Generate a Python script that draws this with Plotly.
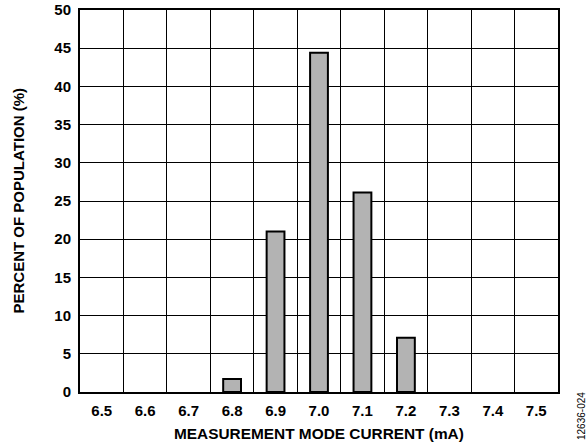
import plotly.graph_objects as go

categories = ["6.5", "6.6", "6.7", "6.8", "6.9", "7.0", "7.1", "7.2", "7.3", "7.4", "7.5"]
bar_x = ["6.8", "6.9", "7.0", "7.1", "7.2"]
bar_y = [1.7, 21.0, 44.4, 26.1, 7.1]
y_ticks = [0, 5, 10, 15, 20, 25, 30, 35, 40, 45, 50]

FONT = "Liberation Sans, Arial, sans-serif"
FS = 15

fig = go.Figure()
fig.add_trace(go.Bar(
    x=bar_x, y=bar_y,
    marker=dict(color="#b3b3b3", line=dict(color="black", width=2)),
    width=0.41,
    showlegend=False,
))

fig.update_layout(
    width=588, height=446,
    margin=dict(l=80, r=30, t=10, b=54),
    paper_bgcolor="white", plot_bgcolor="white",
    font=dict(family=FONT, size=FS, color="black"),
    xaxis=dict(
        type="category", categoryorder="array", categoryarray=categories,
        range=[-0.5, 10.5], tickson="boundaries", automargin=False,
        tickvals=categories, ticktext=["<b>%s</b>" % c for c in categories],
        showgrid=True, gridcolor="black", gridwidth=1,
        showline=True, linecolor="black", linewidth=2, mirror=True,
        ticks="", ticklabelstandoff=4, tickfont=dict(size=FS, family=FONT),
        zeroline=False, fixedrange=True,
    ),
    yaxis=dict(
        range=[0, 50], tickvals=y_ticks, ticktext=["<b>%d</b>" % v for v in y_ticks],
        automargin=False,
        showgrid=True, gridcolor="black", gridwidth=1,
        showline=True, linecolor="black", linewidth=2, mirror=True,
        ticks="", ticklabelstandoff=4, tickfont=dict(size=FS, family=FONT),
        zeroline=False, fixedrange=True,
    ),
    annotations=[
        dict(text="<b>MEASUREMENT MODE CURRENT (mA)</b>", xref="paper", yref="paper",
             x=0.5, y=0, yshift=-41, xanchor="center", yanchor="middle",
             showarrow=False, font=dict(size=15.4, family=FONT, color="black")),
        dict(text="<b>PERCENT OF POPULATION (%)</b>", xref="paper", yref="paper",
             x=0, xshift=-62.5, y=0.5, xanchor="center", yanchor="middle",
             textangle=-90, showarrow=False, font=dict(size=FS, family=FONT, color="black")),
        dict(text="12636-024", xref="paper", yref="paper",
             x=1.0, xshift=23, y=0, yshift=-24, xanchor="center", yanchor="middle",
             textangle=-90, showarrow=False,
             font=dict(size=10, family=FONT, color="black")),
    ],
)

fig.write_html("out.html")
